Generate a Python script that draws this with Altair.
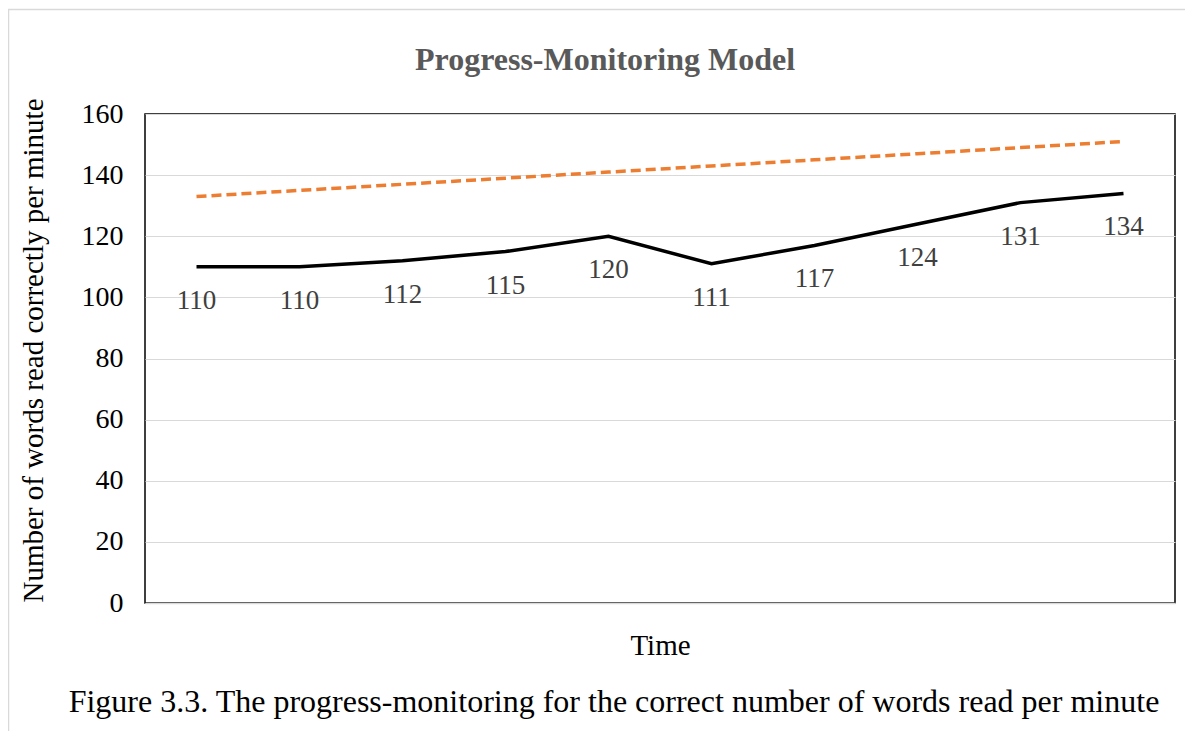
import altair as alt
import pandas as pd

time_points = [1, 2, 3, 4, 5, 6, 7, 8, 9, 10]
words_correct = [110, 110, 112, 115, 120, 111, 117, 124, 131, 134]
goal_line = [133, 135, 137, 139, 141, 143, 145, 147, 149, 151]
y_ticks = [0, 20, 40, 60, 80, 100, 120, 140, 160]

chart_title = "Progress-Monitoring Model"
caption = "Figure 3.3. The progress-monitoring for the correct number of words read per minute"
y_title = "Number of words read correctly per minute"
x_title = "Time"

FONT = "Liberation Serif, Times New Roman, serif"

df = pd.DataFrame({"t": time_points, "actual": words_correct, "goal": goal_line})

x_enc = alt.X(
    "t:O",
    scale=alt.Scale(type="point", padding=0.5),
    axis=alt.Axis(
        labels=False, ticks=False, domainColor="#d9d9d9", domainWidth=1.5,
        title=x_title, titleY=42, titleBaseline="middle",
        titleFont=FONT, titleFontSize=29, titleFontWeight="normal", titleColor="black",
    ),
)
y_scale = alt.Scale(domain=[0, 160], nice=False)
y_axis = alt.Axis(
    values=y_ticks, domain=False, ticks=False, grid=True, gridColor="#d9d9d9", gridWidth=1.2,
    labelPadding=22, labelFont=FONT, labelFontSize=28, labelColor="black",
    title=y_title, titleAngle=270, titleX=-112, titleY=236,
    titleAlign="center", titleBaseline="middle",
    titleFont=FONT, titleFontSize=29, titleFontWeight="normal", titleColor="black",
)

base = alt.Chart(df)

goal = base.mark_line(color="#ED7D31", strokeWidth=3.5, strokeDash=[10, 5]).encode(
    x=x_enc, y=alt.Y("goal:Q", scale=y_scale, axis=y_axis)
)
actual = base.mark_line(color="black", strokeWidth=3.5).encode(
    x=x_enc, y=alt.Y("actual:Q", scale=y_scale, axis=y_axis)
)
labels = base.mark_text(font=FONT, fontSize=27, color="#404040", dy=34, baseline="middle").encode(
    x=x_enc, y=alt.Y("actual:Q", scale=y_scale, axis=y_axis), text="actual:Q"
)

one = pd.DataFrame({"k": [0]})
title_mark = alt.Chart(one).mark_text(
    text=chart_title, font=FONT, fontSize=32, fontWeight="bold", color="#595959",
    align="center", baseline="middle"
).encode(x=alt.value(460), y=alt.value(-54))
caption_mark = alt.Chart(one).mark_text(
    text=caption, font=FONT, fontSize=32, color="black", align="center", baseline="middle"
).encode(x=alt.value(469), y=alt.value(588))
border = alt.Chart(one).mark_rect(
    fillOpacity=0, stroke="#d9d9d9", strokeWidth=1.5
).encode(x=alt.value(-136.5), y=alt.value(-104.5), x2=alt.value(1100), y2=alt.value(700))

chart = alt.layer(border, goal, actual, labels, title_mark, caption_mark).properties(
    width=1030, height=489,
    autosize=alt.AutoSizeParams(type="none"),
    padding={"left": 137, "top": 106, "right": 10, "bottom": 128},
).configure_view(stroke="black", strokeWidth=1.5).configure_axis(
    labelFont=FONT, titleFont=FONT,
)

chart.save("out.html", embed_options={"renderer": "svg", "actions": False})
